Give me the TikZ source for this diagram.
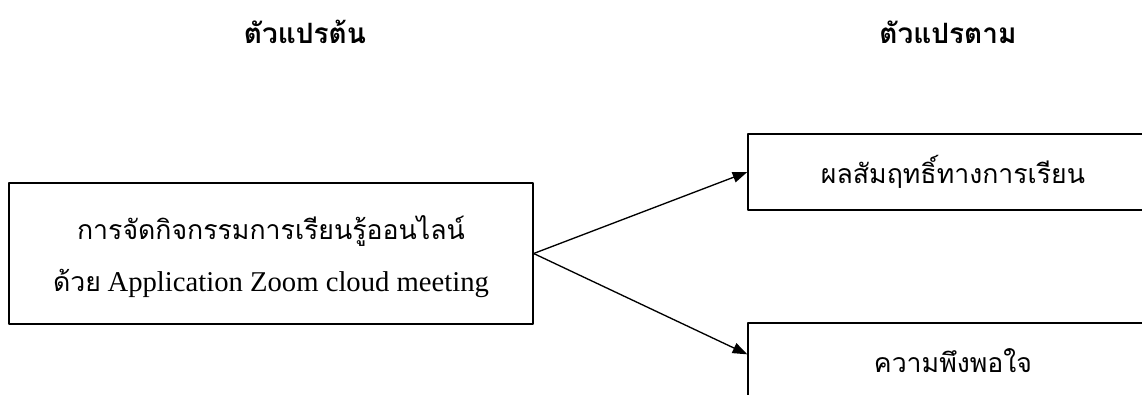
\documentclass[tikz,border=0pt]{standalone}
\usepackage{fontspec}
\setmainfont{Liberation Serif}
\newfontfamily\thai[Script=Thai]{Loma}
\usetikzlibrary{arrows.meta}
\begin{document}
\begin{tikzpicture}[x=0.75pt,y=-0.75pt,>={Triangle[length=11pt,width=8pt]},line join=round,
 box/.style={draw,line width=1pt,inner sep=0pt,align=center},
 head/.style={font=\thai\bfseries\fontsize{21}{24}\selectfont},
 txt/.style={font=\fontsize{20}{39}\selectfont}]
 \useasboundingbox (0,0) rectangle (1142,394);
 \clip (0,0) rectangle (1142,394);
 % หัวข้อ
 \node[head] (hdrL) at (305,32) {ตัวแปรต้น};
 \node[head] (hdrR) at (948,32) {ตัวแปรตาม};
 % กล่อง
 \node[box,txt,minimum width=393pt,minimum height=105.75pt,text depth=-8pt] (src) at (271,253.5)
   {{\thai การจัดกิจกรรมการเรียนรู้ออนไลน์}\\{\thai ด้วย} {\fontsize{21.5}{39}\selectfont Application Zoom cloud meeting}};
 \node[box,txt,minimum width=307.5pt,minimum height=57pt] (res1) at (953,172)
   {\thai ผลสัมฤทธิ์ทางการเรียน};
 \node[box,txt,minimum width=307.5pt,minimum height=57pt] (res2) at (953,361)
   {\thai ความพึงพอใจ};
 \draw[->,line width=1pt] (src.east)--(res1.west);
 \draw[->,line width=1pt] (src.east)--([yshift=-24pt]res2.north west);
\end{tikzpicture}
\end{document}
